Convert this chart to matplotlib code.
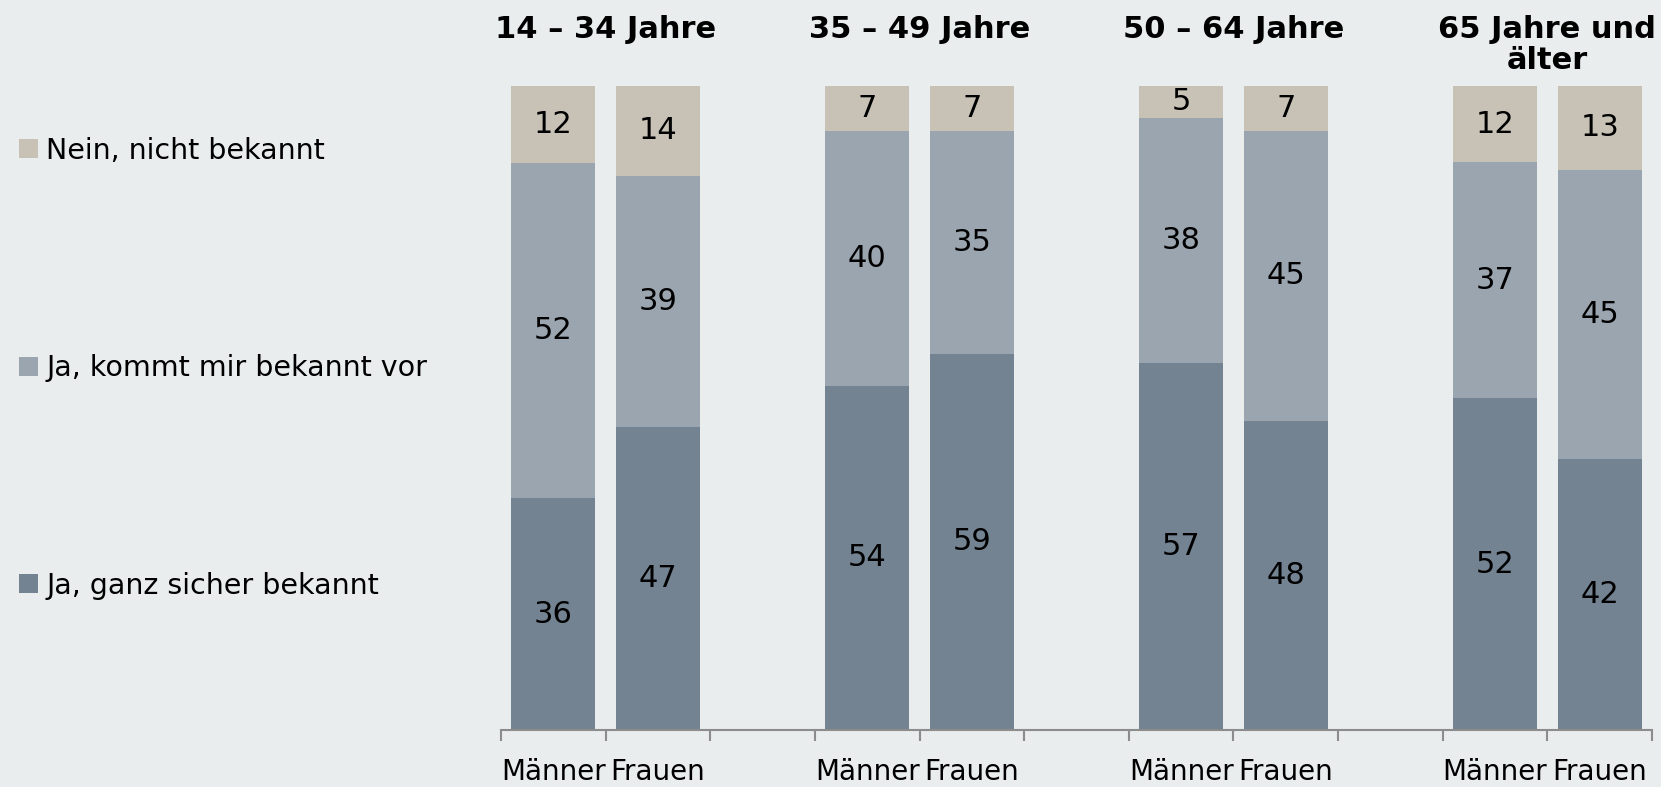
import matplotlib.pyplot as plt
import numpy as np

groups = ['14 – 34 Jahre', '35 – 49 Jahre', '50 – 64 Jahre', '65 Jahre und\nälter']
sexes = ['Männer', 'Frauen']
series = ['Ja, ganz sicher bekannt', 'Ja, kommt mir bekannt vor', 'Nein, nicht bekannt']
ganz_sicher = [36, 47, 54, 59, 57, 48, 52, 42]
kommt_bekannt = [52, 39, 40, 35, 38, 45, 37, 45]
nicht_bekannt = [12, 14, 7, 7, 5, 7, 12, 13]

colors = ['#738391', '#9ba5af', '#c8c1b6']
bg = '#e9eded'

plt.rcParams['font.family'] = ['DejaVu Sans']

fig = plt.figure(figsize=(16.61, 7.87), dpi=100, facecolor=bg)
ax = fig.add_axes([0.3016, 0.0724, 0.693, 0.8185])
ax.set_facecolor(bg)

vals = np.array([ganz_sicher, kommt_bekannt, nicht_bekannt], dtype=float)
totals = vals.sum(axis=0)
shares = vals / totals * 100

# two bars per group, one empty slot between groups
x = np.array([g * 3 + s + 0.5 for g in range(len(groups)) for s in range(2)])

bottom = np.zeros(len(x))
handles = []
for i, name in enumerate(series):
    bars = ax.bar(x, shares[i], bottom=bottom, width=0.8, color=colors[i], label=name)
    handles.append(bars)
    for xi, b, h, v in zip(x, bottom, shares[i], vals[i]):
        ax.text(xi, b + h / 2, f'{int(v)}', ha='center', va='center', fontsize=22, color='black')
    bottom += shares[i]

ax.set_xlim(0, 11)
ax.set_ylim(0, 100)
ax.set_yticks([])
for side in ['left', 'right', 'top']:
    ax.spines[side].set_visible(False)
ax.spines['bottom'].set_color('#8c8c8c')
ax.spines['bottom'].set_linewidth(1.5)

ax.set_xticks(np.arange(0, 12))
ax.set_xticklabels([])
ax.tick_params(axis='x', which='major', length=8, width=1.5, color='#8c8c8c', direction='out')
ax.set_xticks(x, minor=True)
ax.set_xticklabels(sexes * len(groups), minor=True, fontsize=20)
ax.tick_params(axis='x', which='minor', length=0, pad=20)

for g, name in enumerate(groups):
    ax.text(g * 3 + 1, 1.11, name, transform=ax.get_xaxis_transform(), ha='center', va='top',
            fontsize=22, fontweight='bold', linespacing=1.1)

leg = fig.legend(handles[::-1], series[::-1], loc='upper left', bbox_to_anchor=(0.0115, 0.826),
                 frameon=False, fontsize=20.5, handlelength=0.65, handleheight=0.65,
                 handletextpad=0.3, labelspacing=6.65, borderaxespad=0, borderpad=0)

fig.savefig('out.png', dpi=100, facecolor=bg)
